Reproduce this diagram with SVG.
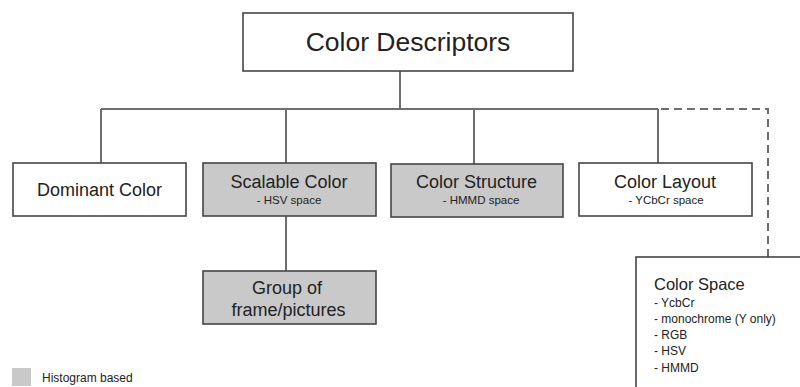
<svg xmlns="http://www.w3.org/2000/svg" width="800" height="387" viewBox="0 0 800 387">
<style>
.box{fill:#fff;stroke:#454545;stroke-width:1.6}
.hist{fill:#c9c9c9;stroke:#454545;stroke-width:1.6}
.t{font-family:"Liberation Sans",Arial,sans-serif;fill:#222;text-anchor:middle}
.main{font-size:18px}
.sub{font-size:11.5px}
.lst{font-family:"Liberation Sans",Arial,sans-serif;fill:#222;font-size:12px}
.csh{font-family:"Liberation Sans",Arial,sans-serif;fill:#222;font-size:16.5px}
.con{fill:none;stroke:#6e6e6e;stroke-width:2}
.dash{fill:none;stroke:#6e6e6e;stroke-width:2;stroke-dasharray:8 5}
</style>
<rect width="800" height="387" fill="#fff"/>
<g id="connectors">
<path class="con" d="M400 71V109M101 109H658M101 109V163M286 109V163M474 109V164M658 109V163M286 216V271"/>
<path class="dash" d="M661 109H768V257"/>
</g>
<g id="color-descriptors">
<rect class="box" x="243" y="13" width="330" height="58"/>
<text class="t" x="408" y="51" style="font-size:26.5px">Color Descriptors</text>
</g>
<g id="dominant-color">
<rect class="box" x="13" y="163" width="173" height="53"/>
<text class="t main" x="99.5" y="196">Dominant Color</text>
</g>
<g id="scalable-color">
<rect class="hist" x="203" y="163" width="173" height="53"/>
<text class="t main" x="289" y="188">Scalable Color</text>
<text class="t sub" x="289" y="204">- HSV space</text>
</g>
<g id="color-structure">
<rect class="hist" x="391" y="164" width="172" height="53"/>
<text class="t main" x="476.5" y="188">Color Structure</text>
<text class="t sub" x="481" y="204">- HMMD space</text>
</g>
<g id="color-layout">
<rect class="box" x="579" y="163" width="173" height="53"/>
<text class="t main" x="665" y="188">Color Layout</text>
<text class="t sub" x="666" y="204">- YCbCr space</text>
</g>
<g id="group-of-frames">
<rect class="hist" x="203" y="271" width="173" height="53"/>
<text class="t main" x="287" y="294">Group of</text>
<text class="t main" x="288.5" y="315.5">frame/pictures</text>
</g>
<g id="color-space">
<rect class="box" x="636" y="257" width="200" height="200"/>
<text class="csh" x="654" y="289.5">Color Space</text>
<text class="lst" x="654" y="306.5">- YcbCr</text>
<text class="lst" x="654" y="322.7">- monochrome (Y only)</text>
<text class="lst" x="654" y="338.9">- RGB</text>
<text class="lst" x="654" y="355.1">- HSV</text>
<text class="lst" x="654" y="371.5">- HMMD</text>
</g>
<g id="legend">
<rect x="12" y="368" width="19" height="18" fill="#c9c9c9"/>
<text class="lst" x="42" y="382">Histogram based</text>
</g>
</svg>
